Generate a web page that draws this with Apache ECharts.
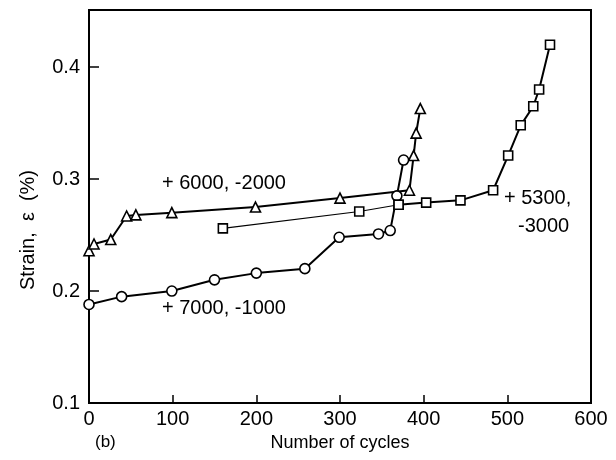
<!DOCTYPE html>
<html>
<head>
<meta charset="utf-8">
<script src="https://cdn.jsdelivr.net/npm/echarts@6/dist/echarts.min.js"></script>
<style>html,body{margin:0;padding:0;background:#fff}#c{width:616px;height:460px}</style>
</head>
<body>
<div id="c"></div>
<script>
// +6000, -2000 (triangles)
const triCycles = [0, 6, 26, 45, 56, 99, 199, 300, 383, 388, 391, 396];
const triStrain = [0.236, 0.242, 0.246, 0.267, 0.268, 0.270, 0.275, 0.283, 0.290, 0.321, 0.341, 0.363];
// +7000, -1000 (circles)
const cirCycles = [0, 39, 99, 150, 200, 258, 299, 346, 360, 368, 376];
const cirStrain = [0.188, 0.195, 0.200, 0.210, 0.216, 0.220, 0.248, 0.251, 0.254, 0.285, 0.317];
// +5300, -3000 (squares)
const sqCycles = [160, 323, 370, 403, 444, 483, 501, 516, 531, 538, 551];
const sqStrain = [0.256, 0.271, 0.277, 0.279, 0.281, 0.290, 0.321, 0.348, 0.365, 0.380, 0.420];
// axis ticks
const xTicks = [0, 100, 200, 300, 400, 500, 600];
const yTicks = [0.1, 0.2, 0.3, 0.4];

const FONT = 'Liberation Sans, Arial, sans-serif';
const zip = (a, b) => a.map((v, i) => [v, b[i]]);
const sqAll = zip(sqCycles, sqStrain);

const chart = echarts.init(document.getElementById('c'), null, {renderer: 'canvas'});
const common = {
  type: 'line',
  symbolSize: 10,
  itemStyle: {color: '#fff', borderColor: '#000', borderWidth: 1.6},
  lineStyle: {color: '#000', width: 2},
  emphasis: {disabled: true},
  clip: false,
  z: 3
};
chart.setOption({
  animation: false,
  backgroundColor: '#fff',
  grid: {left: 89, right: 25, top: 10, bottom: 57, show: true, borderColor: '#000', borderWidth: 2},
  xAxis: {
    type: 'value', min: xTicks[0], max: xTicks[xTicks.length - 1], interval: 100,
    name: 'Number of cycles', nameLocation: 'middle', nameGap: 26,
    nameTextStyle: {fontFamily: FONT, fontSize: 18, color: '#000'},
    axisLine: {show: true, lineStyle: {color: '#000', width: 2}},
    axisTick: {show: true, inside: true, length: 8, lineStyle: {color: '#000', width: 1.5}},
    axisLabel: {fontFamily: FONT, fontSize: 20, color: '#000', margin: 6},
    splitLine: {show: false}
  },
  yAxis: {
    type: 'value', min: yTicks[0], max: 0.451, interval: 0.1,
    axisLine: {show: true, lineStyle: {color: '#000', width: 2}},
    axisTick: {show: true, inside: true, length: 10, lineStyle: {color: '#000', width: 1.5}},
    axisLabel: {fontFamily: FONT, fontSize: 20, color: '#000', margin: 9, showMaxLabel: false,
      formatter: v => yTicks.some(t => Math.abs(t - v) < 1e-6) ? v.toFixed(1) : ''},
    splitLine: {show: false}
  },
  series: [
    Object.assign({}, common, {name: '+6000, -2000', symbol: 'triangle', data: zip(triCycles, triStrain)}),
    Object.assign({}, common, {name: '+7000, -1000', symbol: 'circle', data: zip(cirCycles, cirStrain)}),
    Object.assign({}, common, {name: '+5300, -3000', symbol: 'rect', symbolSize: 9, lineStyle: {color: '#000', width: 1.1}, data: sqAll.slice(0, 3)}),
    Object.assign({}, common, {name: '+5300, -3000 ', symbol: 'rect', symbolSize: 9, lineStyle: {color: '#000', width: 2}, data: sqAll.slice(2)})
  ],
  graphic: [
    {type: 'text', x: 28, y: 230, rotation: Math.PI / 2,
      style: {text: 'Strain,  \u03b5  (%)', font: '20px ' + FONT, fill: '#000', align: 'center', verticalAlign: 'middle'}},
    {type: 'text', left: 162, top: 173, style: {text: '+ 6000, -2000', font: '20px ' + FONT, fill: '#000'}},
    {type: 'text', left: 162, top: 298, style: {text: '+ 7000, -1000', font: '20px ' + FONT, fill: '#000'}},
    {type: 'text', left: 504, top: 188, style: {text: '+ 5300,', font: '20px ' + FONT, fill: '#000'}},
    {type: 'text', left: 518, top: 216, style: {text: '-3000', font: '20px ' + FONT, fill: '#000'}},
    {type: 'text', left: 95, top: 434, style: {text: '(b)', font: '17px ' + FONT, fill: '#000'}}
  ]
});
</script>
</body>
</html>
